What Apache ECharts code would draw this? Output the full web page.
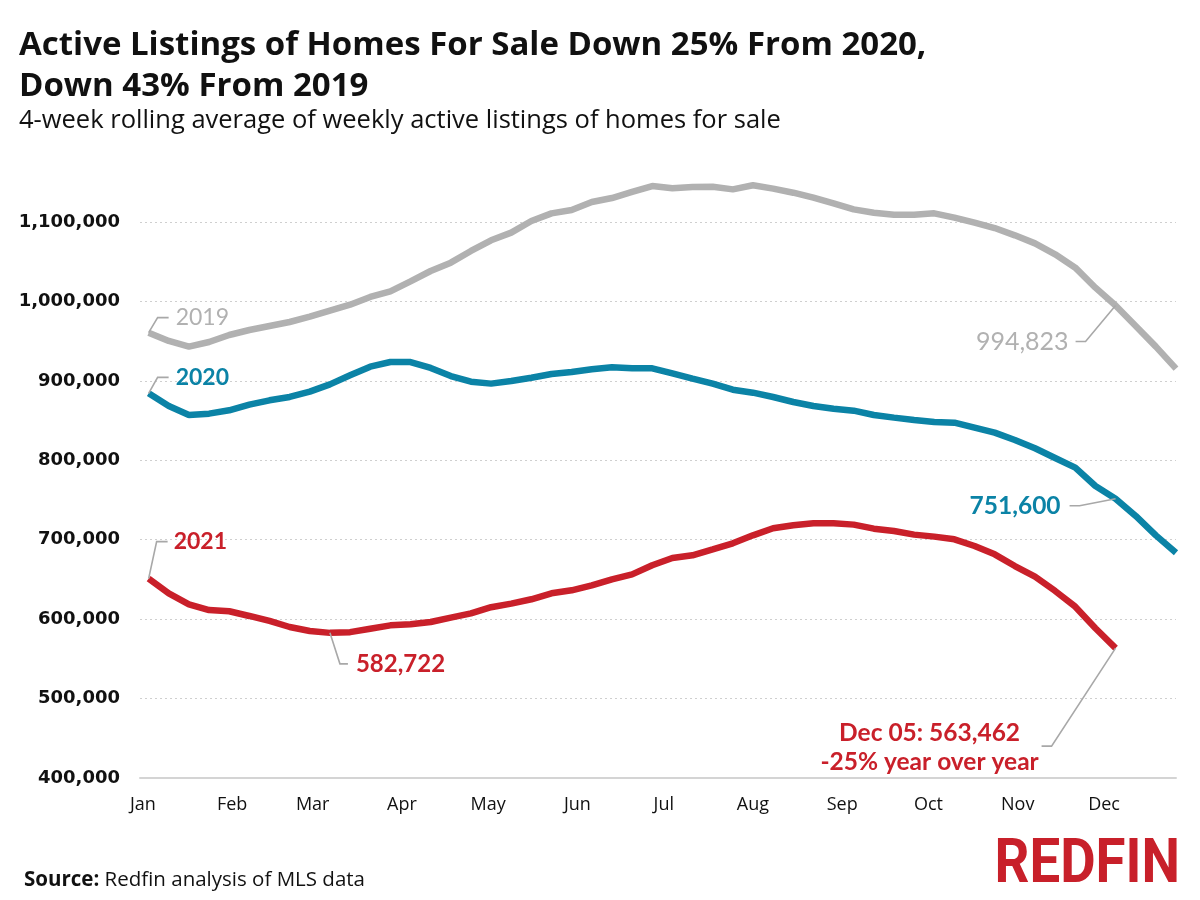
<!DOCTYPE html>
<html>
<head>
<meta charset="utf-8">
<script src="https://cdn.jsdelivr.net/npm/echarts@6/dist/echarts.min.js"></script>
<style>html,body{margin:0;padding:0;background:#fff}#c{width:1200px;height:900px}</style>
</head>
<body>
<div id="c"></div>
<script>
// Week-ending dates (plotted on a common Jan–Dec axis)
const weeks = ['2021-01-03','2021-01-10','2021-01-17','2021-01-24','2021-01-31',
  '2021-02-07','2021-02-14','2021-02-21','2021-02-28',
  '2021-03-07','2021-03-14','2021-03-21','2021-03-28',
  '2021-04-04','2021-04-11','2021-04-18','2021-04-25',
  '2021-05-02','2021-05-09','2021-05-16','2021-05-23','2021-05-30',
  '2021-06-06','2021-06-13','2021-06-20','2021-06-27',
  '2021-07-04','2021-07-11','2021-07-18','2021-07-25',
  '2021-08-01','2021-08-08','2021-08-15','2021-08-22','2021-08-29',
  '2021-09-05','2021-09-12','2021-09-19','2021-09-26',
  '2021-10-03','2021-10-10','2021-10-17','2021-10-24','2021-10-31',
  '2021-11-07','2021-11-14','2021-11-21','2021-11-28',
  '2021-12-05','2021-12-12','2021-12-19','2021-12-26'];

const listings2019 = [960700,950200,943100,948900,957700,964000,969100,974100,980800,988400,
  995900,1005600,1012700,1025300,1038300,1048800,1063500,1077000,1086600,1101300,
  1110900,1115100,1125200,1130200,1137800,1145300,1142400,1144100,1144500,1141100,
  1146200,1142000,1136900,1130600,1123500,1115900,1111700,1109200,1109200,1110900,
  1105500,1099200,1092400,1083200,1073100,1059300,1042500,1017300,994823,969100,
  943100,915400];

const listings2020 = [884300,868400,857000,858700,862900,870000,875500,879700,886400,895600,
  907000,917900,923700,923700,916200,906100,899000,896500,899800,904000,
  908600,911200,914500,917000,915800,915800,909500,902800,896500,888900,
  885100,879700,873400,868400,865000,862500,857000,853700,850700,848200,
  847400,841100,834800,825600,815100,802900,790700,767600,751600,729900,
  705500,683700];

const listings2021 = [651000,632500,618700,611500,609900,604000,597700,590100,585100,582722,
  583600,588000,592200,593500,596400,601900,607300,615000,619500,625000,
  632500,636300,642600,650100,656400,667800,677000,680400,687900,695500,
  705500,714400,718100,720600,720600,719000,713900,711000,706400,703900,
  700500,692100,681600,666900,653500,635500,615700,588500,563462];

const yTicks = [400000, 1100000, 100000];
const monthNames = ['Jan','Feb','Mar','Apr','May','Jun','Jul','Aug','Sep','Oct','Nov','Dec'];

const C19 = '#b1b1b1', C20 = '#0b83a6', C21 = '#c9202a', LEAD = '#a8a8a8';
const mainFont = "'Open Sans', 'Noto Sans', sans-serif";
const labelFont = "Lato, 'Open Sans', sans-serif";

const chart = echarts.init(document.getElementById('c'), null, {renderer: 'canvas'});

function pairs(vals) { return vals.map((v, i) => [weeks[i], v]); }

const option = {
  animation: false,
  backgroundColor: '#ffffff',
  title: [
    { text: 'Active Listings of Homes For Sale Down 25% From 2020,\nDown 43% From 2019',
      left: 14, top: 20,
      textStyle: { fontFamily: mainFont, fontWeight: 'bold', fontSize: 33, lineHeight: 41, color: '#111' } },
    { text: '4-week rolling average of weekly active listings of homes for sale',
      left: 14, top: 102,
      textStyle: { fontFamily: mainFont, fontWeight: 'normal', fontSize: 25.5, lineHeight: 27, color: '#111' } },
    { text: '{b|Source:} Redfin analysis of MLS data',
      left: 19, top: 865,
      textStyle: { rich: {
        b: { fontFamily: mainFont, fontWeight: 'bold', fontSize: 20.5, color: '#111' } },
        fontFamily: mainFont, fontWeight: 'normal', fontSize: 20.5, color: '#111' } }
  ],
  grid: { left: 140, right: 24, top: 222, bottom: 122, containLabel: false },
  xAxis: {
    type: 'time',
    min: '2020-12-31', max: '2021-12-26',
    minInterval: 28 * 86400000, maxInterval: 31 * 86400000,
    axisLine: { show: true, lineStyle: { color: '#d4d4d4', width: 2 } },
    axisTick: { show: false },
    splitLine: { show: false },
    axisLabel: {
      margin: 18, fontFamily: mainFont, fontSize: 18, color: '#111',
      formatter: v => monthNames[new Date(v).getMonth()]
    }
  },
  yAxis: {
    type: 'value', min: yTicks[0], max: yTicks[1], interval: yTicks[2],
    axisLine: { show: false }, axisTick: { show: false },
    splitLine: { show: true, lineStyle: { color: '#cfcfcf', type: [2, 3], width: 1 } },
    axisLabel: {
      margin: 20, fontFamily: "'DejaVu Sans', sans-serif", fontWeight: 'bold', fontSize: 18, color: '#111',
      formatter: v => v.toLocaleString('en-US')
    }
  },
  series: [
    { name: '2019', type: 'line', data: pairs(listings2019), showSymbol: false, clip: false,
      lineStyle: { color: C19, width: 6.5 }, itemStyle: { color: C19 }, z: 2 },
    { name: '2020', type: 'line', data: pairs(listings2020), showSymbol: false, clip: false,
      lineStyle: { color: C20, width: 6.5 }, itemStyle: { color: C20 }, z: 3 },
    { name: '2021', type: 'line', data: pairs(listings2021), showSymbol: false, clip: false,
      lineStyle: { color: C21, width: 6.5 }, itemStyle: { color: C21 }, z: 4 }
  ]
};
chart.setOption(option);

// Annotations anchored to data points via the chart's own scales
function px(series, i) {
  const vals = [listings2019, listings2020, listings2021][series];
  return chart.convertToPixel({ gridIndex: 0 }, [weeks[i], vals[i]]);
}
const g = [];
function leader(points) {
  g.push({ type: 'polyline', shape: { points }, style: { stroke: LEAD, lineWidth: 1.6, fill: null }, z: 10 });
}
function label(x, y, text, color, weight, size, align) {
  g.push({ type: 'text', x, y, style: { text, fill: color, font: `${weight} ${size}px ${labelFont}`,
    align: align || 'left', verticalAlign: 'middle' }, z: 11 });
}
// Year labels at first point
let p = px(0, 0);
leader([[p[0], p[1]], [p[0] + 9, p[1] - 15], [p[0] + 20, p[1] - 15]]);
label(p[0] + 27, p[1] - 15, '2019', C19, 'normal', 23);
p = px(1, 0);
leader([[p[0], p[1]], [p[0] + 9, p[1] - 16], [p[0] + 20, p[1] - 16]]);
label(p[0] + 27, p[1] - 16, '2020', C20, 'bold', 23);
p = px(2, 0);
leader([[p[0], p[1]], [p[0] + 8, p[1] - 37], [p[0] + 19, p[1] - 37]]);
label(p[0] + 25, p[1] - 37, '2021', C21, 'bold', 23);
// 2021 spring low
const spring = listings2021.slice(0, 20);
const minIdx = spring.indexOf(Math.min(...spring));
p = px(2, minIdx);
leader([[p[0], p[1]], [p[0] + 10, p[1] + 31], [p[0] + 18, p[1] + 31]]);
label(p[0] + 26, p[1] + 31, listings2021[minIdx].toLocaleString('en-US'), C21, 'bold', 24);
// Dec 05 values
const last = listings2021.length - 1;
p = px(0, last);
leader([[p[0], p[1]], [p[0] - 30, p[1] + 36], [p[0] - 40, p[1] + 36]]);
label(p[0] - 47, p[1] + 36, listings2019[last].toLocaleString('en-US'), C19, 'normal', 25, 'right');
p = px(1, last);
leader([[p[0], p[1]], [p[0] - 36, p[1] + 7], [p[0] - 46, p[1] + 7]]);
label(p[0] - 55, p[1] + 7, listings2020[last].toLocaleString('en-US'), C20, 'bold', 24.5, 'right');
p = px(2, last);
leader([[p[0], p[1]], [p[0] - 64, p[1] + 98], [p[0] - 74, p[1] + 98]]);
const yoy = Math.round((listings2021[last] / listings2020[last] - 1) * 100);
label(p[0] - 186, p[1] + 85, 'Dec 05: ' + listings2021[last].toLocaleString('en-US'), C21, 'bold', 24.5, 'center');
label(p[0] - 186, p[1] + 114, yoy + '% year over year', C21, 'bold', 24.5, 'center');
// Brand mark
g.push({ type: 'text', x: 1180, y: 866, scaleX: 0.88,
  style: { text: 'REDFIN', fill: '#c8202a', font: "bold 62px Roboto, sans-serif", align: 'right', verticalAlign: 'middle' }, z: 11 });
chart.setOption({ graphic: g });
</script>
</body>
</html>
